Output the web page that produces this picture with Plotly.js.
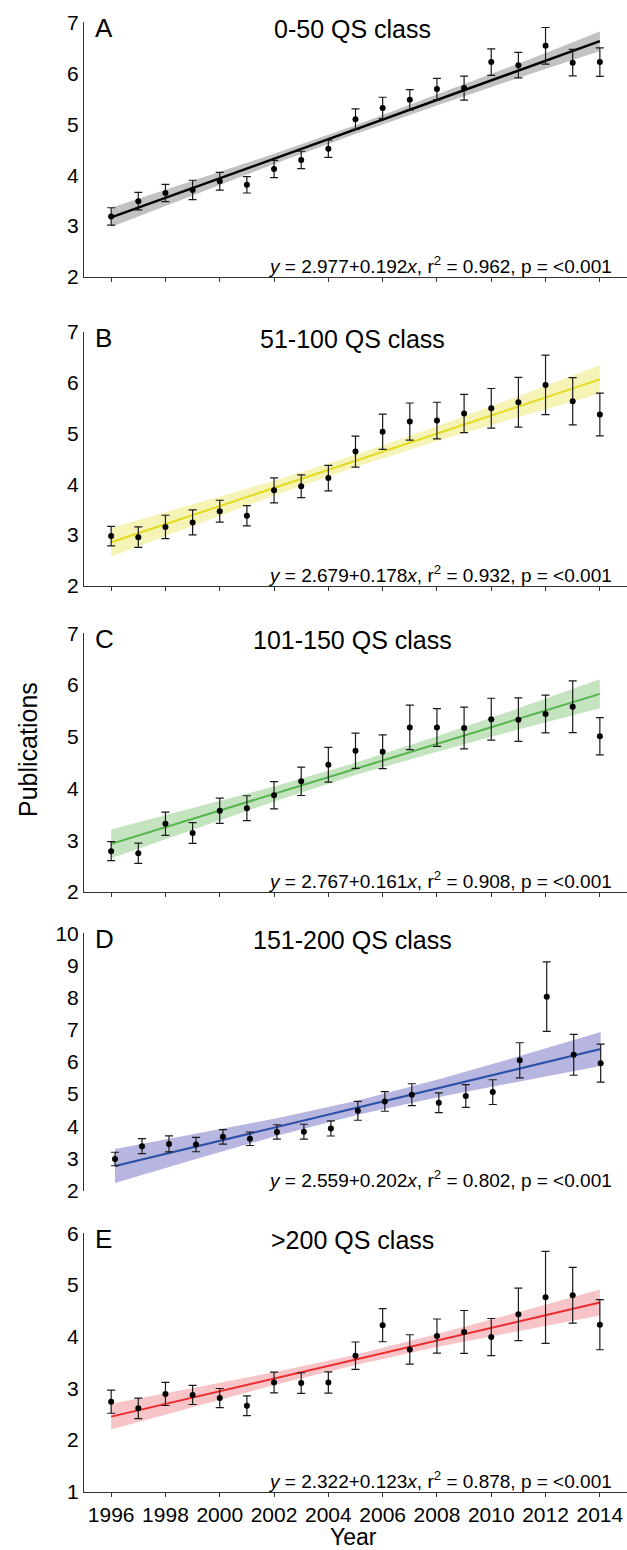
<!DOCTYPE html>
<html>
<head>
<meta charset="utf-8">
<script src="https://cdn.plot.ly/plotly-3.0.1.min.js"></script>
<style>html,body{margin:0;padding:0;background:#fff;}#chart{width:627px;height:1550px;}</style>
</head>
<body>
<div id="chart"></div>
<script>
// ---------- DATA ----------
const years = [1996,1997,1998,1999,2000,2001,2002,2003,2004,2005,2006,2007,2008,2009,2010,2011,2012,2013,2014];
const xTickYears = [1996,1998,2000,2002,2004,2006,2008,2010,2012,2014];

const panelLetters = ["A","B","C","D","E"];
const panelTitles = ["0-50 QS class","51-100 QS class","101-150 QS class","151-200 QS class",">200 QS class"];
const fitTexts = [
  "<i>y</i> = 2.977+0.192<i>x</i>, r<sup>2</sup> = 0.962, p = &lt;0.001",
  "<i>y</i> = 2.679+0.178<i>x</i>, r<sup>2</sup> = 0.932, p = &lt;0.001",
  "<i>y</i> = 2.767+0.161<i>x</i>, r<sup>2</sup> = 0.908, p = &lt;0.001",
  "<i>y</i> = 2.559+0.202<i>x</i>, r<sup>2</sup> = 0.802, p = &lt;0.001",
  "<i>y</i> = 2.322+0.123<i>x</i>, r<sup>2</sup> = 0.878, p = &lt;0.001"
];
const xTitle = "Year";
const yTitle = "Publications";

// mean publications per year
const valsA = [3.19,3.49,3.65,3.71,3.88,3.81,4.12,4.30,4.52,5.10,5.32,5.48,5.69,5.71,6.22,6.16,6.54,6.21,6.22];
const errA  = [0.17,0.17,0.17,0.19,0.175,0.16,0.17,0.17,0.17,0.20,0.21,0.20,0.21,0.235,0.26,0.25,0.36,0.26,0.28];
const valsB = [2.98,2.96,3.16,3.25,3.47,3.38,3.88,3.96,4.12,4.64,5.03,5.23,5.25,5.39,5.49,5.61,5.95,5.63,5.37];
const errB  = [0.19,0.20,0.23,0.245,0.215,0.20,0.245,0.225,0.25,0.305,0.345,0.365,0.36,0.375,0.39,0.49,0.585,0.465,0.42];
const valsC = [2.79,2.75,3.32,3.14,3.57,3.62,3.87,4.14,4.46,4.73,4.71,5.18,5.18,5.17,5.34,5.33,5.44,5.58,5.01];
const errC  = [0.185,0.195,0.225,0.20,0.245,0.24,0.265,0.275,0.335,0.34,0.325,0.43,0.365,0.405,0.405,0.42,0.365,0.50,0.36];
const valsD = [2.98,3.38,3.45,3.43,3.67,3.61,3.82,3.83,3.93,4.48,4.77,4.98,4.73,4.94,5.06,6.05,8.03,6.22,5.96];
const errD  = [0.21,0.235,0.25,0.225,0.225,0.21,0.225,0.23,0.235,0.295,0.305,0.34,0.305,0.355,0.385,0.545,1.08,0.635,0.59];
const valsE = [2.74,2.61,2.89,2.87,2.81,2.66,3.11,3.10,3.11,3.63,4.22,3.75,4.01,4.09,3.99,4.43,4.76,4.80,4.23];
const errE  = [0.225,0.20,0.225,0.185,0.185,0.19,0.20,0.20,0.205,0.265,0.32,0.285,0.33,0.415,0.36,0.51,0.89,0.54,0.485];

// fitted regression line (values at first and last year)
const fitYears = [1996, 2014];
const fitA = [3.17, 6.63];
const fitB = [2.86, 6.06];
const fitC = [2.93, 5.83];
const fitD = [2.76, 6.40];
const fitE = [2.45, 4.66];

// confidence band of the fit, read at these years
const bandYears = [1996, 1999, 2002, 2005, 2008, 2011, 2014];
const bandHiA = [3.36, 3.89, 4.42, 4.98, 5.58, 6.19, 6.82];
const bandLoA = [2.98, 3.60, 4.22, 4.81, 5.37, 5.91, 6.44];
const bandHiB = [3.14, 3.60, 4.07, 4.58, 5.14, 5.73, 6.34];
const bandLoB = [2.58, 3.18, 3.78, 4.34, 4.85, 5.32, 5.78];
const bandHiC = [3.21, 3.62, 4.04, 4.50, 5.01, 5.55, 6.11];
const bandLoC = [2.65, 3.20, 3.75, 4.26, 4.71, 5.14, 5.55];
const bandHiD = [3.29, 3.76, 4.25, 4.80, 5.46, 6.18, 6.93];
const bandLoD = [2.23, 2.98, 3.70, 4.36, 4.91, 5.40, 5.87];
const bandHiE = [2.70, 3.00, 3.31, 3.65, 4.05, 4.47, 4.91];
const bandLoE = [2.20, 2.63, 3.06, 3.45, 3.80, 4.11, 4.41];

const yRanges = [[2,7],[2,7],[2,7],[2,10],[1,6]];

// ---------- STYLE / LAYOUT ----------
const W = 627, H = 1550;
const FONT = "Liberation Sans, Arial, Helvetica, sans-serif";
const lineColors = ["#000000", "#e3da1c", "#55b24c", "#2c4fa6", "#ee2a2e"];
const bandColors = ["#c2c2c2", "#f6f3b7", "#c3e4bf", "#b6b6e0", "#f7c4c7"];
// plot area pixel extents (top, bottom) per panel
const panelPx = [[22.4,277],[331.5,586],[633.3,892],[933.3,1190.5],[1233.3,1491.5]];
const plotLeft = 84;
const py = p => 1 - p / H;
const pxx = p => p / W;

const vals = [valsA, valsB, valsC, valsD, valsE];
const errs = [errA, errB, errC, errD, errE];
const fits = [fitA, fitB, fitC, fitD, fitE];
const bandHi = [bandHiA, bandHiB, bandHiC, bandHiD, bandHiE];
const bandLo = [bandLoA, bandLoB, bandLoC, bandLoD, bandLoE];

const traces = [];
const layout = {
  width: W, height: H,
  margin: {l:0, r:0, t:0, b:0},
  paper_bgcolor: "#ffffff", plot_bgcolor: "#ffffff",
  showlegend: false,
  font: {family: FONT, color: "#000"},
  annotations: []
};

for (let i = 0; i < 5; i++) {
  const n = i + 1;
  const xa = "xaxis" + (n === 1 ? "" : n);
  const ya = "yaxis" + (n === 1 ? "" : n);
  const xr = "x" + (n === 1 ? "" : n);
  const yr = "y" + (n === 1 ? "" : n);
  layout[xa] = {
    domain: [plotLeft / W, 1], anchor: yr, range: [1995, 2015],
    tickmode: "array", tickvals: xTickYears, ticktext: xTickYears.map(String),
    ticks: "outside", ticklen: 4, tickwidth: 1, tickcolor: "#333",
    showline: true, linecolor: "#333", linewidth: 1,
    showgrid: false, zeroline: false,
    showticklabels: n === 5,
    tickfont: {family: FONT, size: 21, color: "#000"}
  };
  layout[ya] = {
    domain: [py(panelPx[i][1]), py(panelPx[i][0])], anchor: xr, range: yRanges[i],
    dtick: 1, ticks: "", showline: true, linecolor: "#333", linewidth: 1,
    showgrid: false, zeroline: false,
    tickfont: {family: FONT, size: 21, color: "#000"}
  };
  // data x-axis: panel D's marks sit slightly offset in the original
  let dataX = xr;
  if (n === 4) {
    layout.xaxis6 = {overlaying: "x4", anchor: "y4", domain: [plotLeft / W, 1],
      range: [1994.85, 2014.975], visible: false, showgrid: false, zeroline: false};
    dataX = "x6";
  }
  traces.push({
    type: "scatter", mode: "lines", xaxis: dataX, yaxis: yr,
    x: bandYears.concat(bandYears.slice().reverse()),
    y: bandHi[i].concat(bandLo[i].slice().reverse()),
    fill: "toself", fillcolor: bandColors[i], line: {width: 0, color: bandColors[i]},
    hoverinfo: "skip"
  });
  traces.push({
    type: "scatter", mode: "lines", xaxis: dataX, yaxis: yr,
    x: fitYears, y: fits[i], line: {color: lineColors[i], width: n === 1 ? 2.4 : 2}
  });
  traces.push({
    type: "scatter", mode: "markers", xaxis: dataX, yaxis: yr,
    x: years, y: vals[i],
    marker: {color: "#000", size: 6},
    error_y: {type: "data", array: errs[i], visible: true, color: "#1a1a1a", thickness: 1.2, width: 4}
  });
  const top = panelPx[i][0];
  layout.annotations.push({
    xref: "paper", yref: "paper", x: pxx(93), y: py(top + 6), xanchor: "left", yanchor: "middle",
    text: panelLetters[i], showarrow: false, font: {family: FONT, size: 26, color: "#000"}
  });
  layout.annotations.push({
    xref: "paper", yref: "paper", x: pxx(352), y: py(top + 7), xanchor: "center", yanchor: "middle",
    text: panelTitles[i], showarrow: false, font: {family: FONT, size: 25, color: "#000"}
  });
  layout.annotations.push({
    xref: "paper", yref: "paper", x: pxx(614), y: py(panelPx[i][1] - 12), xanchor: "right", yanchor: "middle",
    text: fitTexts[i], showarrow: false, font: {family: FONT, size: 19, color: "#000"}
  });
}
layout.annotations.push({
  xref: "paper", yref: "paper", x: pxx(353), y: py(1537), xanchor: "center", yanchor: "middle",
  text: xTitle, showarrow: false, font: {family: FONT, size: 23, color: "#000"}
});
layout.annotations.push({
  xref: "paper", yref: "paper", x: pxx(28), y: py(750), xanchor: "center", yanchor: "middle",
  text: yTitle, textangle: -90, showarrow: false, font: {family: FONT, size: 25, color: "#000"}
});

Plotly.newPlot("chart", traces, layout, {displayModeBar: false, staticPlot: true});
</script>
</body>
</html>
